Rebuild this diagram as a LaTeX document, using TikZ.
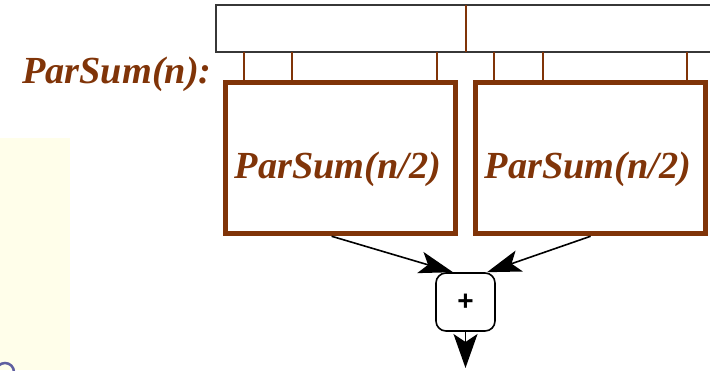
\documentclass[tikz,border=0pt]{standalone}
\usepackage{fontspec}
\setmainfont{Liberation Serif}
\setsansfont{Liberation Sans}
\usetikzlibrary{arrows.meta}
\definecolor{rust}{RGB}{128,52,8}
\definecolor{memgray}{RGB}{55,55,55}
\definecolor{notepale}{RGB}{255,254,234}
\definecolor{bulletblue}{RGB}{95,95,160}
\begin{document}
\begin{tikzpicture}[x=1pt,y=-1pt,
  titletext/.style={text=rust,font=\fontsize{38.3}{40}\selectfont\bfseries\itshape,inner sep=0pt},
  subbox/.style={draw=rust,line width=5.5pt,minimum width=230pt,minimum height=151pt,inner sep=0pt},
  tick/.style={draw=rust,line width=2.6pt},
  flow/.style={draw=black,line width=1.6pt,-{Stealth[length=34pt,width=22pt,inset=8pt]}},
  addbox/.style={draw=black,line width=1.6pt,rounded corners=10pt,minimum width=59pt,minimum height=58pt,inner sep=0pt,font=\fontsize{28}{28}\selectfont\sffamily\bfseries}
]
\useasboundingbox (0,0) rectangle (710,370);

% pale note panel and bullet on the left
\fill[notepale] (0,138) rectangle (70,370);
\draw[bulletblue,line width=2.5pt] (5,372) circle (9);

% input array with its midpoint split
\draw[memgray,line width=2pt] (716,5) -- (216,5) -- (216,52) -- (716,52);
\coordinate (mtop) at (466,5);
\coordinate (mbot) at (466,52);
\draw[rust,line width=2.6pt] (mtop) -- (mbot);

% label
\node[titletext,anchor=base west] (title) at (22,83) {ParSum(n):};

% two half-size sub-computations
\node[subbox] (L) at (340.6,158) {};
\node[subbox] (R) at (590.6,158) {};
\node[titletext,anchor=base] (Lt) at (338,178) {ParSum(n/2)};
\node[titletext,anchor=base] (Rt) at (588,178) {ParSum(n/2)};

% reads from the array into each half
\foreach \x in {244,292,437} {
  \coordinate (a\x) at (\x,52);
  \draw[tick] (a\x) -- (a\x |- L.north);
}
\foreach \x in {494,543,687} {
  \coordinate (b\x) at (\x,52);
  \draw[tick] (b\x) -- (b\x |- R.north);
}

% combining step
\node[addbox] (P) at (465.5,302) {+};
\draw[flow] ([xshift=-9pt]L.south) -- ([xshift=-12.5pt]P.north);
\draw[flow] (R.south) -- ([xshift=21.5pt]P.north);
\coordinate (out) at (465.5,368);
\draw[draw=black,line width=1.6pt,-{Stealth[length=34pt,width=24pt,inset=8pt]}] (P.south) -- (out);
\end{tikzpicture}
\end{document}
